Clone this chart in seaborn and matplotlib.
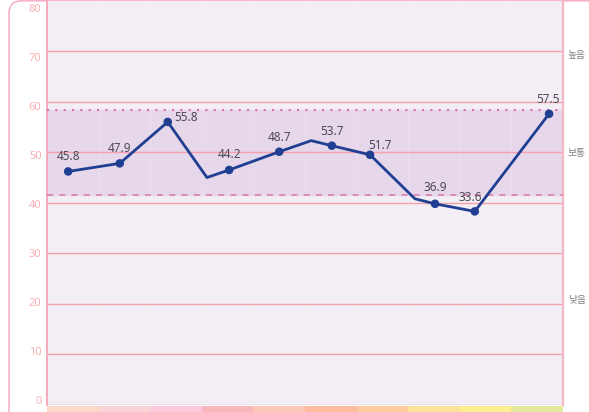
"""Line chart of index values against normal band, with colored strip below."""

import matplotlib

matplotlib.use("Agg")
import matplotlib.pyplot as plt
import pandas as pd
import seaborn as sns
from matplotlib.patches import FancyBboxPatch

# positions along the x range (0-10, one unit per colored strip segment)
positions = [0.41, 1.41, 2.34, 3.10, 3.53, 4.50, 5.12, 5.52, 6.26, 7.13, 7.52, 8.29, 9.73]
values = [46.2, 47.8, 56.0, 45.0, 46.5, 50.1, 52.3, 51.3, 49.5, 40.8, 39.8, 38.3, 57.6]
marked = [True, True, True, False, True, True, False, True, True, False, True, True, True]
point_labels = ["45.8", "47.9", "55.8", "44.2", "48.7", "53.7", "51.7", "36.9", "33.6", "57.5"]

band_low = 41.5
band_high = 58.3
level_names = ["높음", "보통", "낮음"]
strip_colors = ["#fdd8c8", "#fad4d4", "#fbc8de", "#f8b6bd", "#fdc7b5",
                "#fdbba0", "#fdcaa0", "#fde099", "#fdef90", "#e2e89c"]
y_ticks = list(range(0, 81, 10))

sns.set_style("white")
plt.rcParams["font.family"] = ["Noto Sans", "Noto Sans CJK KR", "DejaVu Sans"]

fig = plt.figure(figsize=(5.89, 4.12), dpi=100)
ax = fig.add_axes([47 / 589, 7 / 412, 516 / 589, 404.4 / 412])
ax.set_facecolor("#f3edf5")
ax.set_xlim(0, 10)
ax.set_ylim(0, 80)

# normal band and its limits
ax.axhspan(band_low, band_high, color="#e6d7ea", zorder=1)
for y in y_ticks[:-1]:
    ax.axhline(y, color="#f4a3ac", lw=1.0, zorder=2)
for x in range(1, 10):
    ax.axvline(x, color="white", lw=0.8, alpha=0.2, zorder=1.5)
ax.axhline(band_high, color="#d870a5", lw=1.5, ls=(0, (1, 3)), zorder=3)
ax.axhline(band_low, color="#d877a8", lw=1.1, ls=(0, (4, 4)), zorder=3)

frame = pd.DataFrame({"x": positions, "y": values, "marked": marked})
sns.lineplot(data=frame, x="x", y="y", ax=ax, color="#213f92", lw=2.0,
             sort=False, zorder=5)
points = frame[frame["marked"]].reset_index(drop=True)
sns.scatterplot(data=points, x="x", y="y", ax=ax, color="#213f92", s=38,
                edgecolor="none", zorder=6)

offsets = [(0, 11), (0, 11), (13, 3), (0, 11), (0, 10), (0, 10), (7, 7),
           (0, 12), (-3, 10), (-1, 10)]
for (_, row), text, off in zip(points.iterrows(), point_labels, offsets):
    ax.annotate(text, (row["x"], row["y"]), xytext=off, textcoords="offset points",
                ha="center", va="center", fontsize=8.5, color="#4e4b55", zorder=7)

# level names on the right
level_centers = [(band_high + 80) / 2, (band_low + band_high) / 2, band_low / 2]
for name, yc in zip(level_names, level_centers):
    ax.text(1.027, yc, name, transform=ax.get_yaxis_transform(), ha="center",
            va="center", fontsize=7, color="#7f7f7f", clip_on=False,
            family=["Noto Sans CJK KR", "DejaVu Sans"])

ax.set_xlabel("")
ax.set_ylabel("")
ax.set_xticks([])
ax.set_yticks([])
for side in ["top", "bottom"]:
    ax.spines[side].set_visible(False)
ax.spines["left"].set_color("#f5a6b8")
ax.spines["right"].set_color("#f5b8c5")
ax.spines["left"].set_linewidth(1.3)
ax.spines["right"].set_linewidth(1.6)

# tick labels on a slightly different scale, like the original
ax_ticks = ax.twinx()
ax_ticks.set_ylim(-1.0, 81.5)
ax_ticks.yaxis.tick_left()
ax_ticks.set_yticks(y_ticks)
ax_ticks.set_yticklabels([str(t) for t in y_ticks])
ax_ticks.tick_params(axis="y", length=0, pad=4, labelsize=8, labelcolor="#f8b0b3")
for spine in ax_ticks.spines.values():
    spine.set_visible(False)

# colored strip under the chart
ax_strip = fig.add_axes([47 / 589, -0.04, 516 / 589, 0.04 + 6.5 / 412])
ax_strip.bar(range(len(strip_colors)), [1] * len(strip_colors), width=1.0,
             align="edge", color=strip_colors, edgecolor="none")
ax_strip.set_xlim(0, 10)
ax_strip.set_ylim(0, 1)
ax_strip.axis("off")

# rounded outer frame, right side runs off the canvas
outer = FancyBboxPatch((0.09, -0.3), 6.0, 4.412, boxstyle="round,pad=0,rounding_size=0.13",
                       transform=fig.dpi_scale_trans, facecolor="none",
                       edgecolor="#f7b3c9", lw=1.2, zorder=-1)
fig.patches.append(outer)

fig.savefig("out.png", dpi=100)
plt.close(fig)
